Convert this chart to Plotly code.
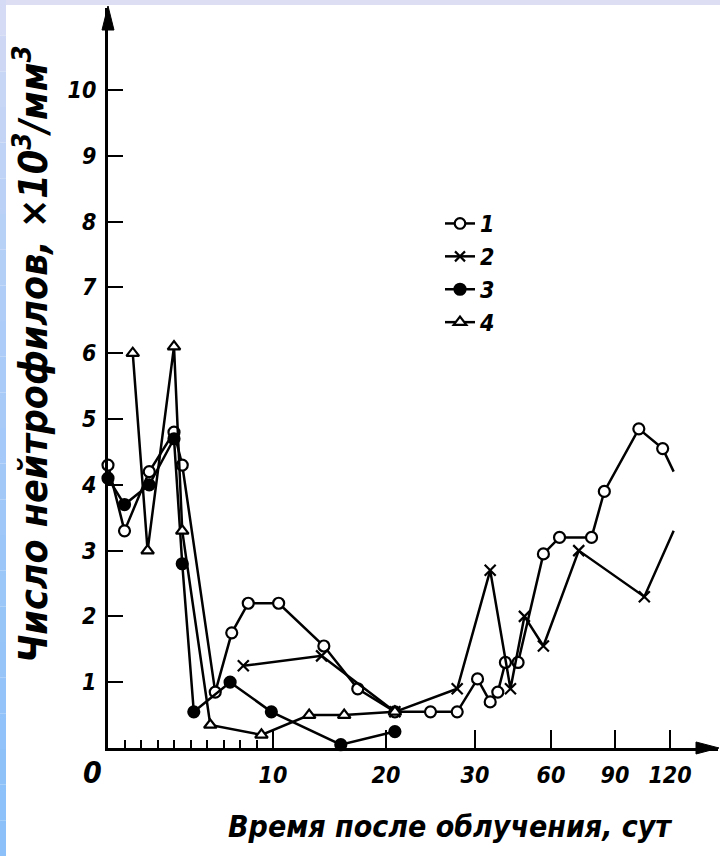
import numpy as np
import plotly.graph_objects as go

# broken time axis of the original: day -> horizontal position
AXIS_DAYS = [0, 10, 20, 30, 60, 90, 120, 150]
AXIS_POS = [108, 273, 386, 475, 551, 615, 670, 725]
X_TICK_DAYS = [10, 20, 30, 60, 90, 120]
X_TICK_TEXT = ["10", "20", "30", "60", "90", "120"]
X_MINOR_DAYS = [1, 2, 3, 4, 5, 6, 7, 8, 9]
Y_TICKS = [1, 2, 3, 4, 5, 6, 7, 8, 9, 10]

# 1 - open circles
S1_DAYS = [0, 1, 2.5, 4, 4.5, 6.5, 7.5, 8.5, 10.5, 14.5, 17.5, 21, 25, 28, 31, 36, 39, 42, 47,
           57, 64, 79, 85, 103, 116, 122]
S1_VALS = [4.3, 3.3, 4.2, 4.8, 4.3, 0.85, 1.75, 2.2, 2.2, 1.55, 0.9, 0.55, 0.55, 0.55, 1.05,
           0.7, 0.85, 1.3, 1.3, 2.95, 3.2, 3.2, 3.9, 4.85, 4.55, 4.2]
# 2 - crosses
S2_DAYS = [8.2, 14.3, 21, 28, 36, 44, 49.5, 57, 73, 106, 122]
S2_VALS = [1.25, 1.4, 0.55, 0.9, 2.7, 0.9, 2.0, 1.55, 3.0, 2.3, 3.3]
# 3 - filled circles
S3_DAYS = [0, 1, 2.5, 4, 4.5, 5.2, 7.4, 9.9, 16, 21]
S3_VALS = [4.1, 3.7, 4.0, 4.7, 2.8, 0.55, 1.0, 0.55, 0.05, 0.25]
# 4 - open triangles
S4_DAYS = [1.5, 2.4, 4, 4.5, 6.2, 9.3, 13.2, 16.3, 21]
S4_VALS = [6.0, 3.0, 6.1, 3.3, 0.35, 0.2, 0.5, 0.5, 0.55]

FONT = "DejaVu Sans Condensed, DejaVu Sans, sans-serif"
W, H = 720, 856
Y0_PX, Y_UNIT_PX, Y_TOP_PX = 748, 65.8, 8
X_LEFT, X_RIGHT = 108, 718


def to_axis(days):
    return np.interp(days, AXIS_DAYS, AXIS_POS)


def px(x, y):
    # page pixel -> paper coordinates
    return x / W, 1 - y / H


def series(days, vals, name, symbol, fill, last_marker=True):
    n = len(days)
    sizes = [11] * n if last_marker else [11] * (n - 1) + [0]
    return go.Scatter(
        x=to_axis(days), y=vals, name=name, mode="lines+markers",
        line=dict(color="black", width=2.5),
        marker=dict(symbol=symbol, size=sizes, color=fill, opacity=1,
                    line=dict(color="black", width=2.2)),
        cliponaxis=False,
    )


fig = go.Figure()
fig.add_trace(series(S1_DAYS, S1_VALS, "1", "circle", "white", last_marker=False))
fig.add_trace(series(S2_DAYS, S2_VALS, "2", "x-thin", "black", last_marker=False))
fig.add_trace(series(S3_DAYS, S3_VALS, "3", "circle", "black"))
fig.add_trace(series(S4_DAYS, S4_VALS, "4", "triangle-up", "white"))

tick_font = dict(family=FONT, size=23, color="black", style="italic", weight="bold")

fig.update_layout(
    width=W, height=H,
    margin=dict(l=0, r=0, t=0, b=0),
    paper_bgcolor="white", plot_bgcolor="white",
    xaxis=dict(
        domain=[X_LEFT / W, X_RIGHT / W], range=[X_LEFT, X_RIGHT],
        showline=True, linecolor="black", linewidth=3,
        ticks="inside", ticklen=18, tickwidth=2, tickcolor="black",
        tickvals=to_axis(X_TICK_DAYS), ticktext=X_TICK_TEXT, tickfont=tick_font,
        ticklabelstandoff=4,
        minor=dict(tickvals=to_axis(X_MINOR_DAYS), ticks="inside", ticklen=8,
                   tickwidth=2, tickcolor="black", showgrid=False),
        showgrid=False, zeroline=False,
    ),
    yaxis=dict(
        domain=[(H - Y0_PX) / H, 1 - Y_TOP_PX / H],
        range=[0, (Y0_PX - Y_TOP_PX) / Y_UNIT_PX],
        showline=True, linecolor="black", linewidth=3,
        ticks="inside", ticklen=15, tickwidth=2, tickcolor="black",
        tickvals=Y_TICKS, tickfont=tick_font, ticklabelstandoff=4,
        showgrid=False, zeroline=False,
    ),
    legend=dict(
        x=440 / W, y=1 - 202 / H, xanchor="left", yanchor="top",
        font=dict(family=FONT, size=23, color="black", style="italic", weight="bold"),
        bgcolor="rgba(0,0,0,0)", tracegroupgap=0,
    ),
)

x0, y0 = px(92, 772)
fig.add_annotation(x=x0, y=y0, xref="paper", yref="paper", xanchor="center", yanchor="middle",
                   text="0", showarrow=False,
                   font=dict(family=FONT, size=30, color="black", style="italic", weight="bold"))
x0, y0 = px(31, 354)
fig.add_annotation(x=x0, y=y0, xref="paper", yref="paper", xanchor="center", yanchor="middle",
                   textangle=-90, showarrow=False,
                   text="Число нейтрофилов, ×10<sup>3</sup>/мм<sup>3</sup>",
                   font=dict(family=FONT, size=39, color="black", style="italic", weight="bold"))
x0, y0 = px(450, 826)
fig.add_annotation(x=x0, y=y0, xref="paper", yref="paper", xanchor="center", yanchor="middle",
                   text="Время после облучения, сут", showarrow=False,
                   font=dict(family=FONT, size=30, color="black", style="italic", weight="bold"))


def tri(points):
    coords = [px(x, y) for x, y in points]
    return "M " + " L ".join(f"{a:.5f},{b:.5f}" for a, b in coords) + " Z"


# axis arrowheads
shapes = [
    dict(type="path", xref="paper", yref="paper", path=tri([(X_LEFT, 6), (X_LEFT - 6, 30), (X_LEFT + 6, 30)]),
         fillcolor="black", line=dict(color="black", width=1)),
    dict(type="path", xref="paper", yref="paper",
         path=tri([(X_RIGHT + 1, Y0_PX), (X_RIGHT - 22, Y0_PX - 6), (X_RIGHT - 22, Y0_PX + 6)]),
         fillcolor="black", line=dict(color="black", width=1)),
]
# scanned page edges: lavender top band, lavender-to-blue left band
shapes.append(dict(type="rect", xref="paper", yref="paper", x0=0, x1=1, y0=1 - 5 / H, y1=1,
                   fillcolor="#dddef3", line=dict(width=0), layer="above"))
steps = 24
top_rgb, bot_rgb = np.array([222, 222, 244]), np.array([138, 192, 250])
for i in range(steps):
    t = ((i + 0.5) / steps) ** 0.6
    r, g, b = (top_rgb + (bot_rgb - top_rgb) * t).astype(int)
    shapes.append(dict(type="rect", xref="paper", yref="paper", x0=0, x1=6 / W,
                       y0=1 - (i + 1) / steps, y1=1 - i / steps,
                       fillcolor=f"rgb({r},{g},{b})", line=dict(width=0), layer="above"))
fig.update_layout(shapes=shapes)

fig.write_html("out.html", config={"displayModeBar": False},
               post_script="document.body.style.margin='0';"
                           "document.body.style.overflow='hidden';")
